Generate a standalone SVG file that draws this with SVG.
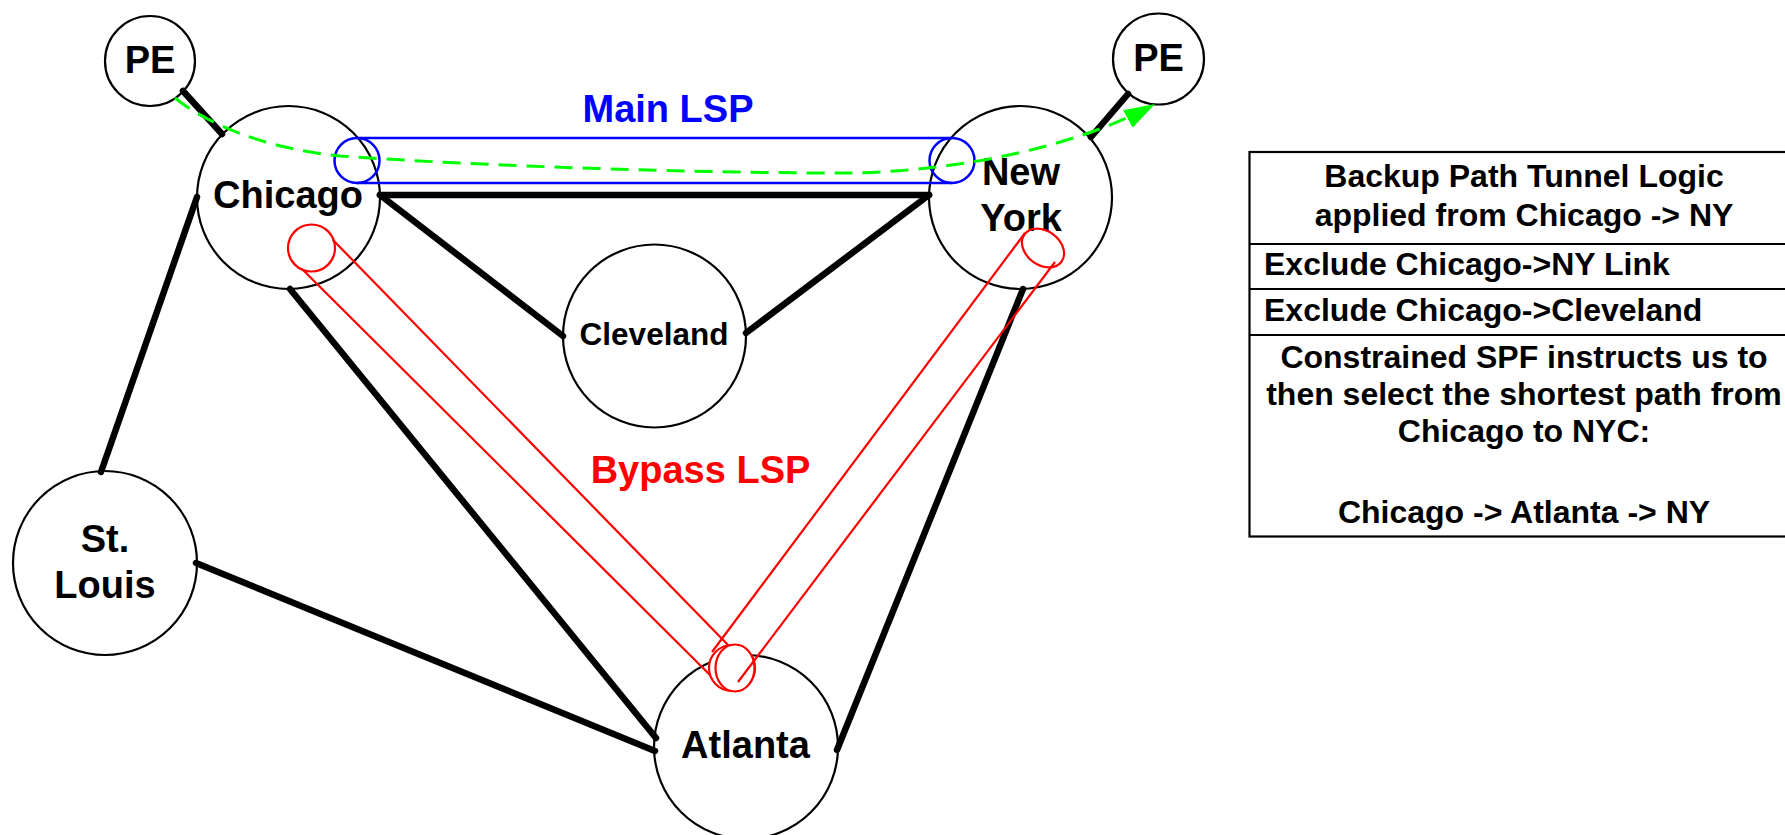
<svg xmlns="http://www.w3.org/2000/svg" width="1785" height="835" viewBox="0 0 1785 835">
<style>
.node{fill:#fff;stroke:#000;stroke-width:2.2}
.lbl{font-family:"Liberation Sans",Arial,sans-serif;font-weight:bold;font-size:38px;fill:#000;text-anchor:middle}
.small{font-size:31.5px}
.link{stroke:#000;stroke-width:6.5;stroke-linecap:round;fill:none}
.blue{stroke:#0000FF;stroke-width:2.5;fill:none}
.red{stroke:#FF0000;stroke-width:2.2;fill:none}
.redf{stroke:#FF0000;stroke-width:2.2;fill:#fff}
.green{stroke:#00FF00;stroke-width:3;fill:none;stroke-dasharray:18 10}
.tbl{fill:#fff;stroke:#000;stroke-width:2.2}
.tline{stroke:#000;stroke-width:2.2}
.tt{font-family:"Liberation Sans",Arial,sans-serif;font-weight:bold;font-size:32px;fill:#000}
</style>
<defs>
<marker id="arrow" markerUnits="userSpaceOnUse" markerWidth="34" markerHeight="22" refX="31" refY="10" orient="auto">
<path d="M0,0 L31,10 L0,20 z" fill="#00FF00"/>
</marker>
</defs>
<rect width="1785" height="835" fill="#fff"/>

<g id="node-pe-left"><circle class="node" cx="150" cy="61" r="45"/><text class="lbl" x="150" y="73">PE</text></g>
<g id="node-pe-right"><circle class="node" cx="1158.5" cy="59" r="45.5"/><text class="lbl" x="1158.5" y="71">PE</text></g>
<g id="node-chicago"><circle class="node" cx="288.5" cy="197.5" r="91.5"/><text class="lbl" x="288" y="208">Chicago</text></g>
<g id="node-newyork"><circle class="node" cx="1020.5" cy="197.5" r="91.5"/><text class="lbl" x="1021" y="185">New</text><text class="lbl" x="1021" y="231">York</text></g>
<g id="node-cleveland"><circle class="node" cx="654.5" cy="336" r="91.5"/><text class="lbl small" x="654" y="345">Cleveland</text></g>
<g id="node-stlouis"><circle class="node" cx="105" cy="563" r="92"/><text class="lbl" x="105" y="552">St.</text><text class="lbl" x="105" y="598">Louis</text></g>
<g id="node-atlanta"><circle class="node" cx="746" cy="747" r="92"/><text class="lbl" x="745.5" y="758">Atlanta</text></g>

<g id="connectors">
<line class="link" x1="183" y1="91" x2="222" y2="134"/>
<line class="link" x1="1128" y1="94" x2="1091" y2="137"/>
<line class="link" x1="380" y1="195" x2="929" y2="195"/>
<line class="link" x1="380" y1="195" x2="563" y2="336"/>
<line class="link" x1="746" y1="333" x2="929" y2="195"/>
<line class="link" x1="197" y1="197" x2="101" y2="472"/>
<line class="link" x1="290" y1="289" x2="656" y2="738"/>
<line class="link" x1="196" y1="563" x2="655" y2="751"/>
<line class="link" x1="1023" y1="289" x2="837" y2="750"/>
</g>

<g id="main-lsp">
<line class="blue" x1="357" y1="138" x2="952" y2="138"/>
<line class="blue" x1="357" y1="183" x2="952" y2="183"/>
<circle class="blue" cx="357" cy="160.5" r="22.5"/>
<circle class="blue" cx="952" cy="160.5" r="22.5"/>
<text class="lbl" x="668" y="122" style="fill:#0000FF">Main LSP</text>
</g>

<g id="bypass-lsp">
<circle class="red" cx="311.5" cy="248" r="23.5"/>
<line class="red" x1="333" y1="240" x2="729" y2="646"/>
<line class="red" x1="302" y1="269" x2="711" y2="676"/>
<circle class="redf" cx="732" cy="668" r="23"/>
<ellipse class="redf" cx="735" cy="668" rx="19.5" ry="23.5"/>
<ellipse class="red" cx="1043" cy="248" rx="23" ry="17" transform="rotate(36.7 1043 248)"/>
<line class="red" x1="1025" y1="233" x2="712" y2="652"/>
<line class="red" x1="1055" y1="262" x2="738" y2="682"/>
<text class="lbl" x="700.5" y="483" style="fill:#FF0000">Bypass LSP</text>
</g>

<g id="lsp-path">
<path class="green" d="M175,98 C205,122 260,148 340,156 C480,166 700,173 840,173 C950,173 1075,148 1155,104" marker-end="url(#arrow)"/>
</g>

<g id="logic-table">
<rect class="tbl" x="1249.5" y="152" width="600" height="384.5"/>
<line class="tline" x1="1249.5" y1="244" x2="1790" y2="244"/>
<line class="tline" x1="1249.5" y1="289" x2="1790" y2="289"/>
<line class="tline" x1="1249.5" y1="335" x2="1790" y2="335"/>
<text class="tt" x="1524" y="187" text-anchor="middle">Backup Path Tunnel Logic</text>
<text class="tt" x="1524" y="226" text-anchor="middle">applied from Chicago -&gt; NY</text>
<text class="tt" x="1264" y="275">Exclude Chicago-&gt;NY Link</text>
<text class="tt" x="1264" y="321">Exclude Chicago-&gt;Cleveland</text>
<text class="tt" x="1524" y="368" text-anchor="middle">Constrained SPF instructs us to</text>
<text class="tt" x="1524" y="405" text-anchor="middle">then select the shortest path from</text>
<text class="tt" x="1524" y="442" text-anchor="middle">Chicago to NYC:</text>
<text class="tt" x="1524" y="523" text-anchor="middle">Chicago -&gt; Atlanta -&gt; NY</text>
</g>
</svg>
